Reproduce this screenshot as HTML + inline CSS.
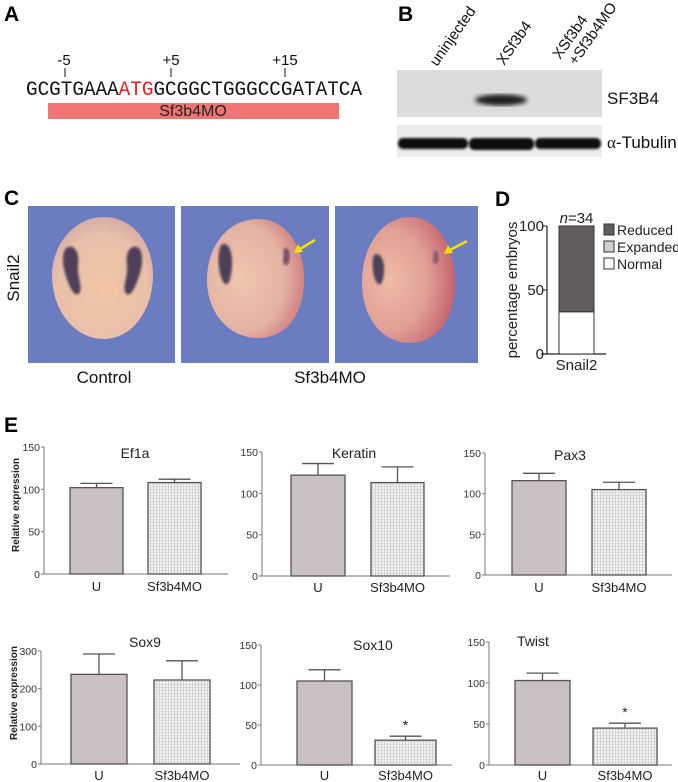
<!DOCTYPE html>
<html><head><meta charset="utf-8"><style>
html,body{margin:0;padding:0;background:#fff;}
svg{display:block;font-family:"Liberation Sans",sans-serif;}
</style></head><body>
<svg id="fig" width="678" height="782" viewBox="0 0 678 782" xmlns="http://www.w3.org/2000/svg">
<defs>
<pattern id="dots" width="3" height="3" patternUnits="userSpaceOnUse">
<rect width="3" height="3" fill="#f4f4f4"/><rect width="1" height="3" fill="#d0d0d0"/><rect width="3" height="1" fill="#d8d8d8"/>
</pattern>
<filter id="blur2"><feGaussianBlur stdDeviation="2.5"/></filter>
<filter id="blur1"><feGaussianBlur stdDeviation="1.2"/></filter>
<radialGradient id="emb1" cx="0.5" cy="0.6" r="0.6"><stop offset="0" stop-color="#f0c4a4"/><stop offset="0.75" stop-color="#e9c0aa"/><stop offset="1" stop-color="#d6ada6"/></radialGradient>
<radialGradient id="emb2" cx="0.35" cy="0.5" r="0.75"><stop offset="0" stop-color="#efc6ac"/><stop offset="0.6" stop-color="#e3b2a4"/><stop offset="1" stop-color="#c86a72"/></radialGradient>
<radialGradient id="emb3" cx="0.3" cy="0.5" r="0.8"><stop offset="0" stop-color="#efbba4"/><stop offset="0.5" stop-color="#e0a096"/><stop offset="1" stop-color="#bd4f62"/></radialGradient>
</defs>

<!-- Panel A -->
<text x="4" y="21" font-size="21" font-weight="bold">A</text>
<g font-size="15" text-anchor="middle" fill="#111">
<text x="64" y="65">-5</text><text x="171" y="65">+5</text><text x="285" y="65">+15</text>
<line x1="65" y1="68" x2="65" y2="77" stroke="#111"/><line x1="171" y1="68" x2="171" y2="77" stroke="#111"/><line x1="285" y1="68" x2="285" y2="77" stroke="#111"/>
</g>
<text x="26" y="95" font-family="'Liberation Mono', 'DejaVu Sans Mono', monospace" font-size="20" textLength="336" lengthAdjust="spacingAndGlyphs" fill="#111">GCGTGAAA<tspan fill="#e02020">ATG</tspan>GCGGCTGGGCCGATATCA</text>
<rect x="48" y="103" width="291" height="16" fill="#ef7474"/>
<text x="193" y="116" font-size="16" text-anchor="middle" fill="#222">Sf3b4MO</text>

<!-- Panel B -->
<text x="398" y="21" font-size="21" font-weight="bold">B</text>
<g font-size="15" fill="#111">
<text transform="translate(437,67) rotate(-55)">uninjected</text>
<text transform="translate(504,66) rotate(-55)">XSf3b4</text>
<text transform="translate(560,60) rotate(-55)">XSf3b4</text>
<text transform="translate(576,66) rotate(-55)">+Sf3b4MO</text>
</g>
<rect x="397" y="70" width="205" height="47" fill="#dcdcdc"/>
<ellipse cx="501" cy="100" rx="26" ry="5.5" fill="#1a1a1a" filter="url(#blur2)"/>
<rect x="397" y="125" width="205" height="32" fill="#ececec"/>
<g filter="url(#blur1)" fill="#0e0e0e">
<rect x="398" y="138" width="70" height="11" rx="5"/><rect x="469" y="138" width="65" height="12" rx="5"/><rect x="535" y="138" width="66" height="11" rx="5"/>
</g>
<text x="607" y="104" font-size="17" fill="#111">SF3B4</text>
<text x="607" y="148" font-size="17" fill="#111"><tspan font-family="Liberation Serif, serif">α</tspan>-Tubulin</text>

<!-- Panel C -->
<text x="4" y="205" font-size="21" font-weight="bold">C</text>
<text transform="translate(19,278) rotate(-90)" font-size="17" text-anchor="middle" fill="#111">Snail2</text>
<g>
<rect x="28" y="206" width="147" height="157" fill="#6b7cc0"/>
<path d="M104 217 C134 217 153 245 153 275 C153 310 132 339 104 339 C74 339 52 310 52 275 C52 245 74 217 104 217Z" fill="url(#emb1)"/>
<path d="M66 248 C74 243 80 252 78 266 C77 276 82 284 80 292 C76 298 72 292 68 282 C64 272 60 256 66 248Z" fill="#4e4058" filter="url(#blur1)"/>
<path d="M139 248 C131 243 125 252 127 266 C128 276 123 284 125 292 C129 298 133 292 137 282 C141 272 145 256 139 248Z" fill="#4e4058" filter="url(#blur1)"/>
</g>
<g>
<rect x="181" y="206" width="148" height="157" fill="#6b7cc0"/>
<path d="M258 219 C288 219 306 250 304 285 C302 318 284 338 258 338 C230 338 207 314 207 280 C207 246 228 219 258 219Z" fill="url(#emb2)"/>
<path d="M221 245 C228 240 233 252 232 266 C231 278 229 286 225 284 C219 279 216 256 221 245Z" fill="#4e4058" filter="url(#blur1)"/>
<path d="M284 248 C289 246 291 254 289 262 C287 266 284 266 283 262Z" fill="#7a5068" filter="url(#blur1)"/>
<line x1="315" y1="240" x2="300" y2="249" stroke="#f5e000" stroke-width="2.5"/><path d="M294 253 L298 244 L303 252Z" fill="#f5e000"/>
</g>
<g>
<rect x="335" y="206" width="143" height="157" fill="#6b7cc0"/>
<path d="M410 217 C438 217 456 248 455 286 C454 320 436 343 410 343 C382 343 362 318 362 282 C362 246 382 217 410 217Z" fill="url(#emb3)"/>
<path d="M374 255 C380 251 385 261 384 272 C383 282 381 286 378 284 C373 280 371 262 374 255Z" fill="#4e4058" filter="url(#blur1)"/>
<path d="M434 251 C438 249 440 256 438 262 C436 265 434 265 433 261Z" fill="#8a5a70" filter="url(#blur1)"/>
<line x1="467" y1="241" x2="450" y2="250" stroke="#f5e000" stroke-width="2.5"/><path d="M444 254 L448 245 L453 253Z" fill="#f5e000"/>
</g>
<text x="104" y="383" font-size="17" text-anchor="middle" fill="#111">Control</text>
<text x="330" y="383" font-size="17" text-anchor="middle" fill="#111">Sf3b4MO</text>

<!-- Panel D -->
<text x="495" y="206" font-size="21" font-weight="bold">D</text>
<g id="panelD"></g>

<!-- Panel E -->
<text x="4" y="432" font-size="21" font-weight="bold">E</text>
<text transform="translate(19,505) rotate(-90)" font-size="10" font-weight="bold" text-anchor="middle" fill="#222">Relative expression</text>
<text transform="translate(17,693) rotate(-90)" font-size="10" font-weight="bold" text-anchor="middle" fill="#222">Relative expression</text>
<g id="charts"></g>
</svg>
<script>
// Panel D data
const dCategories = ["Snail2"];
const dNormal = [33];
const dExpanded = [0];
const dReduced = [67];
const dTicks = [0, 50, 100];
const dN = ["34"];

// Panel E data
const genes = ["Ef1a", "Keratin", "Pax3", "Sox9", "Sox10", "Twist"];
const groups = ["U", "Sf3b4MO"];
const uValues = [102, 122, 116, 238, 105, 103];
const uErrors = [5, 14, 9, 54, 14, 9];
const moValues = [108, 113, 105, 223, 31, 45];
const moErrors = [4, 19, 9, 51, 5, 6];
const yMaxes = [150, 150, 150, 300, 150, 150];
const tickSets = [[0,50,100,150],[0,50,100,150],[0,50,100,150],[0,100,200,300],[0,50,100,150],[0,50,100,150]];
const significant = [false, false, false, false, true, true];

const NS = "http://www.w3.org/2000/svg";
function mk(tag, attrs, parent){ const e=document.createElementNS(NS,tag); for(const k in attrs) e.setAttribute(k,attrs[k]); parent.appendChild(e); return e; }

// ---- Panel D ----
(function(){
  const g = document.getElementById("panelD");
  const ax = 547, y0 = 354, yTop = 226, dmax = 100;
  const y = v => y0 - (v/dmax)*(y0-yTop);
  const axis = mk("path",{d:`M${ax} ${y(100)} V${y0} M541 ${y0} H606`,stroke:"#222","stroke-width":1.2,fill:"none"},g);
  
  
  dTicks.forEach(t=>{
    mk("line",{x1:ax-4,x2:ax,y1:y(t),y2:y(t),stroke:"#222"},g);
    const tx = mk("text",{x:ax-3,y:y(t)+5,"font-size":15,"text-anchor":"end",fill:"#222"},g);
    tx.textContent = t;
    
    
  });
  const yl = mk("text",{transform:`translate(517,290) rotate(-90)`,"font-size":15,"text-anchor":"middle",fill:"#222"},g);
  yl.textContent = "percentage embryos";
  
  
  const bx = 559, bw = 35;
  dCategories.forEach((c,i)=>{
    const n = mk("rect",{x:bx,y:y(dNormal[i]),width:bw,height:y0-y(dNormal[i]),fill:"#fff",stroke:"#333"},g);
    
    
    const e = mk("rect",{x:bx,y:y(dNormal[i]+dExpanded[i]),width:bw,height:y(dNormal[i])-y(dNormal[i]+dExpanded[i]),fill:"#cfcfcf",stroke:"#333"},g);
    
    
    const r = mk("rect",{x:bx,y:y(dNormal[i]+dExpanded[i]+dReduced[i]),width:bw,height:y(dNormal[i]+dExpanded[i])-y(dNormal[i]+dExpanded[i]+dReduced[i]),fill:"#625d5c",stroke:"#333"},g);
    
    
    const nt = mk("text",{x:bx+bw/2,y:y(100)-3,"font-size":15,"text-anchor":"middle",fill:"#222"},g);
    nt.innerHTML = '<tspan font-style="italic">n</tspan>=' + dN[i];
    
    
    const cl = mk("text",{x:bx+bw/2,y:370,"font-size":15,"text-anchor":"middle",fill:"#222"},g);
    cl.textContent = c;
    
    
  });
  const leg = [["Reduced","#625d5c",230],["Expanded","#cfcfcf",247],["Normal","#fff",264]];
  leg.forEach(l=>{
    const gg = mk("g",{},g);
    
    
    mk("rect",{x:604,y:l[2]-6,width:10,height:11,fill:l[1],stroke:"#333"},gg);
    const t = mk("text",{x:617,y:l[2]+5,"font-size":14,fill:"#222"},gg);
    t.textContent = l[0];
  });
})();

// ---- Panel E ----
const layouts = [
  {ax:44,y0:574,yTop:447,u:[70,123],m:[148,201],end:228,tx:135,ty:458,ly:591},
  {ax:262,y0:576,yTop:452,u:[291,345],m:[371,424],end:450,tx:354,ty:458,ly:592},
  {ax:485,y0:575,yTop:453,u:[512,566],m:[592,646],end:672,tx:570,ty:460,ly:592},
  {ax:41,y0:764,yTop:651,u:[71,127],m:[154,210],end:240,tx:145,ty:647,ly:780},
  {ax:261,y0:765,yTop:645,u:[297,352],m:[375,436],end:452,tx:373,ty:650,ly:780},
  {ax:489,y0:765,yTop:642,u:[515,570],m:[593,657],end:672,tx:533,ty:646,ly:780}
];
const root = document.getElementById("charts");
genes.forEach((gene,i)=>{
  const L = layouts[i];
  const g = mk("g",{},root);
  
  
  const y = v => L.y0 - (v/yMaxes[i])*(L.y0-L.yTop);
  const title = mk("text",{x:L.tx,y:L.ty,"font-size":14,"text-anchor":"middle",fill:"#222"},g);
  title.textContent = gene;
  
  
  const axes = mk("path",{d:`M${L.ax} ${y(yMaxes[i])} V${L.y0} H${L.end}`,stroke:"#777","stroke-width":1,fill:"none"},g);
  
  
  tickSets[i].forEach(t=>{
    mk("line",{x1:L.ax-3,x2:L.ax,y1:y(t),y2:y(t),stroke:"#777"},g);
    const tl = mk("text",{x:L.ax-4,y:y(t)+4,"font-size":10.5,"text-anchor":"end",fill:"#333"},g);
    tl.textContent = t;
    
    
  });
  const vals = [uValues[i], moValues[i]];
  const errs = [uErrors[i], moErrors[i]];
  const xs = [L.u, L.m];
  vals.forEach((v,j)=>{
    const [x1,x2] = xs[j];
    const cx = (x1+x2)/2;
    const eb = mk("path",{d:`M${cx} ${y(v)} V${y(v+errs[j])} M${cx-16} ${y(v+errs[j])} H${cx+16}`,stroke:"#555","stroke-width":1.3,fill:"none"},g);
    
    
    const b = mk("rect",{x:x1,y:y(v),width:x2-x1,height:L.y0-y(v),fill:j===0?"#c9c0c4":"url(#dots)",stroke:"#555","stroke-width":1.3},g);
    
    
    const xl = mk("text",{x:cx,y:L.ly,"font-size":13,"text-anchor":"middle",fill:"#222"},g);
    xl.textContent = groups[j];
    
    
    if(j===1 && significant[i]){
      const s = mk("text",{x:cx,y:y(v+errs[j])-6,"font-size":14,"text-anchor":"middle",fill:"#222"},g);
      s.textContent = "*";
      
      
    }
  });
});
</script>
</body></html>
